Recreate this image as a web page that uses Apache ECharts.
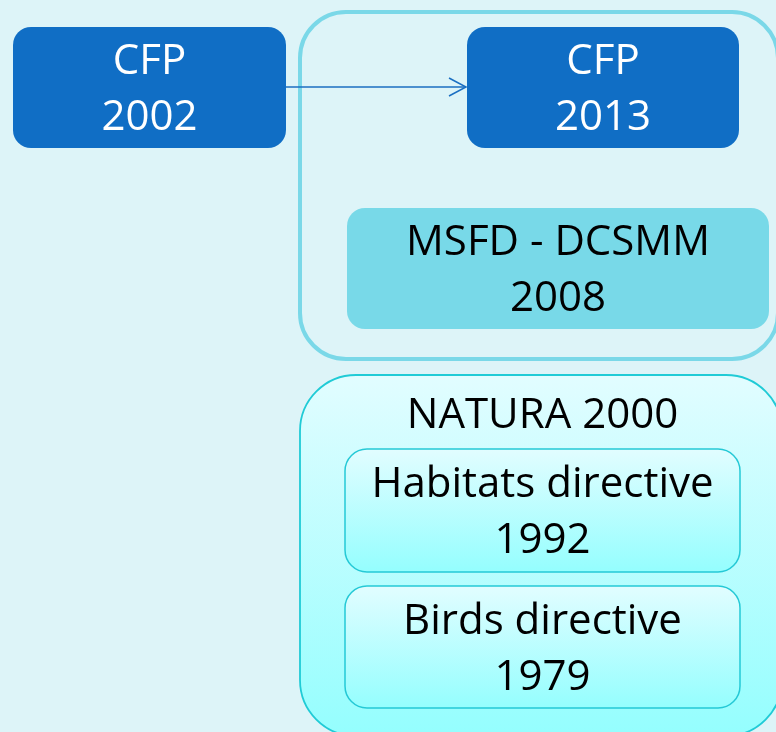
<!DOCTYPE html>
<html lang="en">
<head>
    <meta charset="UTF-8">
    <title>CFP / MSFD / NATURA 2000</title>
    <style>
        html, body { margin: 0; padding: 0; background: #ddf4f8; }
        #chart { width: 776px; height: 732px; }
    </style>
    <script src="https://cdn.jsdelivr.net/npm/echarts@6.0.0/dist/echarts.min.js"></script>
</head>
<body>
<div id="chart"></div>
<script type="text/javascript">
    // boxes of the diagram, in diagram units (one unit = one pixel of the picture)
    var boxLabels = ['', 'CFP\n2002', 'CFP\n2013', 'MSFD - DCSMM\n2008', 'NATURA 2000', 'Habitats directive\n1992', 'Birds directive\n1979'];
    var boxKinds  = ['frame', 'policy', 'policy', 'msfd', 'natura', 'directive', 'directive'];
    var boxLeft   = [300, 13, 467, 347, 300, 345, 345];
    var boxTop    = [12, 27, 27, 208, 375, 449, 586];
    var boxRight  = [778, 286, 739, 769, 782, 740, 740];
    var boxBottom = [359, 148, 148, 329, 736, 572, 708];

    // arrow CFP 2002 -> CFP 2013
    var arrowFrom = [286, 87];
    var arrowTo = [467, 87];

    var styles = {
        frame:     { fill: 'none', stroke: '#7ad8e8', lineWidth: 4, r: 46, color: '#000' },
        policy:    { fill: '#106ec5', stroke: null, lineWidth: 0, r: 18, color: '#fff' },
        msfd:      { fill: '#78d9e8', stroke: null, lineWidth: 0, r: 18, color: '#000' },
        natura:    { fill: 'grad', stroke: '#20cbd6', lineWidth: 1.8, r: 56, color: '#000', top: true },
        directive: { fill: 'grad', stroke: '#25c9d6', lineWidth: 1.5, r: 22, color: '#000' }
    };

    var boxData = boxLabels.map(function (l, i) {
        return [boxLeft[i], boxTop[i], boxRight[i], boxBottom[i]];
    });

    function renderBox(params, api) {
        var i = params.dataIndex;
        var st = styles[boxKinds[i]];
        var p0 = api.coord([api.value(0), api.value(1)]);
        var p1 = api.coord([api.value(2), api.value(3)]);
        var w = p1[0] - p0[0], h = p1[1] - p0[1];
        var fill = st.fill;
        if (fill === 'grad') {
            fill = new echarts.graphic.LinearGradient(0, 0, 0, 1, [
                { offset: 0, color: '#e2fdff' },
                { offset: 1, color: '#94fefe' }
            ]);
        }
        var children = [{
            type: 'rect',
            shape: { x: p0[0], y: p0[1], width: w, height: h, r: st.r },
            style: { fill: fill, stroke: st.stroke, lineWidth: st.lineWidth }
        }];
        if (boxLabels[i]) {
            // NATURA title sits above its inner boxes, centred on them
            var cx = st.top ? api.coord([(boxLeft[5] + boxRight[5]) / 2, 0])[0] : p0[0] + w / 2;
            children.push({
                type: 'text',
                x: cx,
                y: st.top ? p0[1] + 41 : p0[1] + h / 2 + 3,
                style: {
                    text: boxLabels[i],
                    fill: st.color,
                    font: '42px "Open Sans"',
                    lineHeight: 56,
                    align: 'center',
                    verticalAlign: 'middle'
                }
            });
        }
        return { type: 'group', children: children };
    }

    function renderArrow(params, api) {
        var a = api.coord(arrowFrom);
        var b = api.coord(arrowTo);
        return {
            type: 'group',
            children: [{
                type: 'line',
                shape: { x1: a[0], y1: a[1], x2: b[0] - 1, y2: b[1] },
                style: { stroke: '#1b6fc2', lineWidth: 1.5 }
            }, {
                type: 'polyline',
                shape: { points: [[b[0] - 18, b[1] - 9], [b[0] - 1, b[1]], [b[0] - 18, b[1] + 9]] },
                style: { stroke: '#1b6fc2', lineWidth: 1.5, fill: 'none' }
            }]
        };
    }

    var myChart = echarts.init(document.getElementById('chart'));
    var option = {
        backgroundColor: '#ddf4f8',
        animation: false,
        grid: { left: 0, right: 0, top: 0, bottom: 0 },
        xAxis: { type: 'value', min: 0, max: 776, show: false },
        yAxis: { type: 'value', min: 0, max: 732, inverse: true, show: false },
        series: [{
            type: 'custom',
            renderItem: renderBox,
            data: boxData,
            clip: true,
            silent: true
        }, {
            type: 'custom',
            renderItem: renderArrow,
            data: [[arrowFrom[0], arrowFrom[1]]],
            silent: true
        }]
    };
    myChart.setOption(option);
</script>
</body>
</html>
